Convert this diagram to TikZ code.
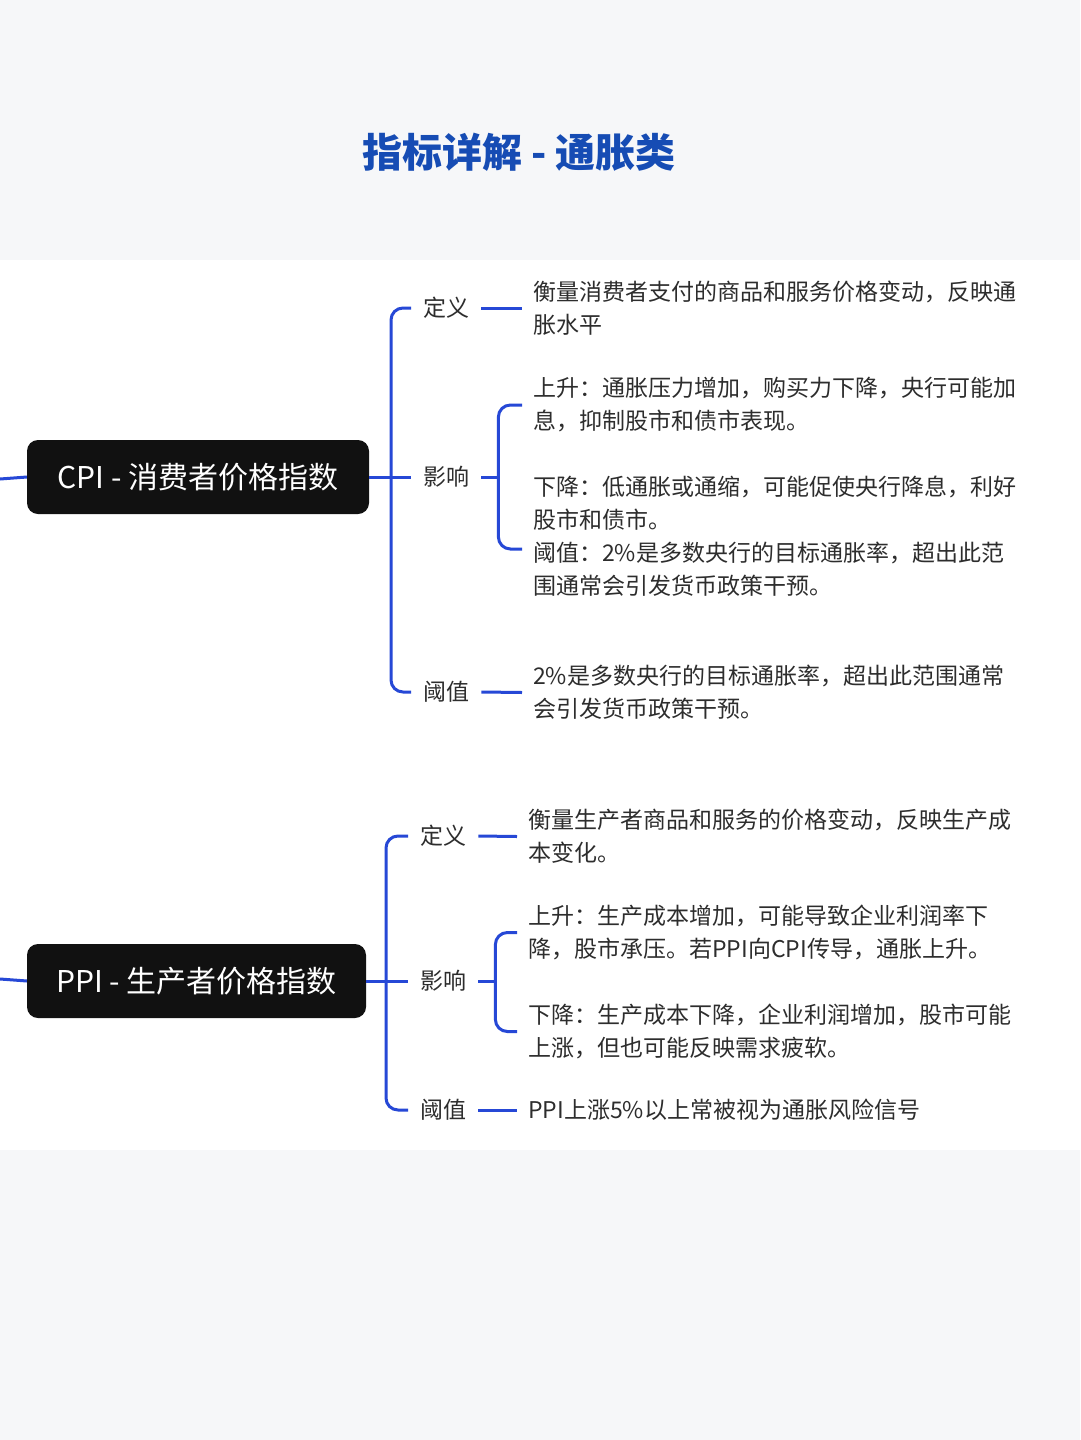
\documentclass[tikz,border=0pt]{standalone}
\usepackage{fontspec}
\setmainfont{Noto Sans CJK SC}
\definecolor{bggray}{RGB}{246,247,249}
\definecolor{lineblue}{RGB}{38,72,214}
\definecolor{titleblue}{RGB}{22,76,180}
\definecolor{txt}{RGB}{45,45,45}
\definecolor{rootfill}{RGB}{17,17,17}
\begin{document}
\begin{tikzpicture}[x=1pt,y=-1pt,
  br/.style={draw=lineblue,line width=3pt,rounded corners=12pt},
  root/.style={fill=rootfill,text=white,rounded corners=11pt,minimum height=74pt,inner sep=0pt,font=\fontsize{30}{36}\selectfont},
  lab/.style={anchor=west,inner xsep=12pt,inner ysep=0pt,text=txt,font=\fontsize{23}{33}\selectfont},
  body/.style={anchor=west,inner xsep=11pt,inner ysep=0pt,text=txt,align=left,font=\fontsize{23}{33}\selectfont},
  titlestyle/.style={text=titleblue,inner sep=0pt,font=\fontsize{40}{48}\selectfont\bfseries}
]
\useasboundingbox (0,0) rectangle (1080,1440);
\fill[bggray] (0,0) rectangle (1080,260);
\fill[white] (0,260) rectangle (1080,1150);
\fill[bggray] (0,1150) rectangle (1080,1440);

\node[titlestyle] (title) at (519,152) {指标详解 - 通胀类};

% ---------- CPI ----------
\coordinate (cin) at (0,479);
\draw[br] (cin) -- (27,477);
\node[root,minimum width=342pt] (cpi) at (198,477) {CPI - 消费者价格指数};

\node[lab] (cdef) at (411,308) {定义};
\node[lab] (cimp) at (411,477) {影响};
\node[lab] (cthr) at (411,692) {阈值};

\draw[br] (cdef.west) -- ++(-20,0) |- (cthr.west);
\draw[br] (cpi.east) -- (cimp.west);

\node[body] (cdeft) at (522,308) {衡量消费者支付的商品和服务价格变动，反映通\\胀水平};
\draw[br] (cdef.east) -- (cdeft.west);

\node[body] (cup) at (522,405) {上升：通胀压力增加，购买力下降，央行可能加\\息，抑制股市和债市表现。};
\node[body] (cdown) at (522,503.5) {下降：低通胀或通缩，可能促使央行降息，利好\\股市和债市。};
\node[body] (cth2) at (522,569.5) {阈值：2\%是多数央行的目标通胀率，超出此范\\围通常会引发货币政策干预。};
\coordinate (cdn) at (522,549);
\draw[br] (cimp.east) -- ++(17,0) coordinate (cj);
\draw[br] (cup.west) -| (cj) |- (cdn);

\node[body] (cthrt) at (522,692.5) {2\%是多数央行的目标通胀率，超出此范围通常\\会引发货币政策干预。};
\draw[br] (cthr.east) -- (cthrt.west);

% ---------- PPI ----------
\coordinate (pin) at (0,979);
\draw[br] (pin) -- (27,981);
\node[root,minimum width=339pt] (ppi) at (196.5,981) {PPI - 生产者价格指数};

\node[lab] (pdef) at (408,836) {定义};
\node[lab] (pimp) at (408,981) {影响};
\node[lab] (pthr) at (408,1110) {阈值};

\draw[br] (pdef.west) -- ++(-22,0) |- (pthr.west);
\draw[br] (ppi.east) -- (pimp.west);

\node[body] (pdeft) at (517,836.5) {衡量生产者商品和服务的价格变动，反映生产成\\本变化。};
\draw[br] (pdef.east) -- (pdeft.west);

\node[body] (pup) at (517,932.5) {上升：生产成本增加，可能导致企业利润率下\\降，股市承压。若PPI向CPI传导，通胀上升。};
\node[body] (pdown) at (517,1031.5) {下降：生产成本下降，企业利润增加，股市可能\\上涨，但也可能反映需求疲软。};
\draw[br] (pimp.east) -- ++(17,0) coordinate (pj);
\draw[br] (pup.west) -| (pj) |- (pdown.west);

\node[body] (pthrt) at (517,1110) {PPI上涨5\%以上常被视为通胀风险信号};
\draw[br] (pthr.east) -- (pthrt.west);
\end{tikzpicture}
\end{document}
